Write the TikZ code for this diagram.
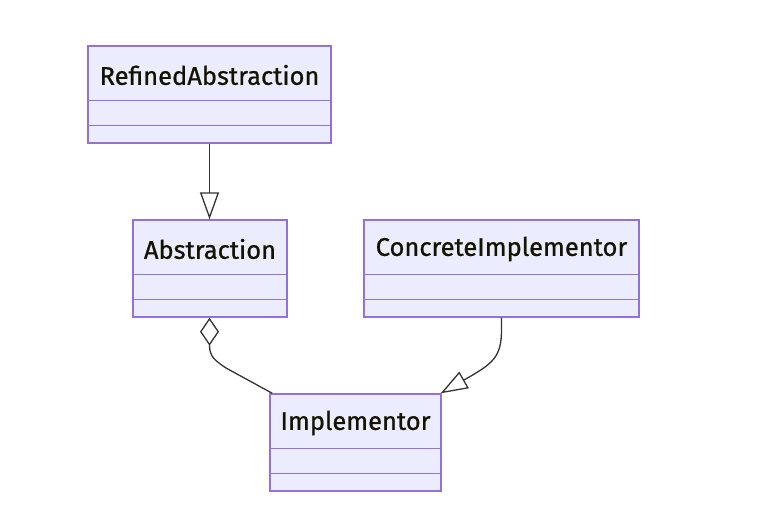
\documentclass[tikz,border=0pt]{standalone}
\usepackage{fontspec}
\setmainfont{Fira Sans}
\newfontfamily\lblfont{Fira Sans}[FakeBold=0.8]
\usetikzlibrary{arrows.meta}
\definecolor{clsfill}{HTML}{ECECFF}
\definecolor{clsdraw}{HTML}{9370DB}
\definecolor{linec}{HTML}{333333}
\definecolor{txtc}{HTML}{131300}
\begin{document}
\begin{tikzpicture}[x=1pt,y=-1pt,
  cls/.style={draw=clsdraw, fill=clsfill, line width=1.4pt, inner sep=0pt, rectangle},
  lbl/.style={text=txtc, font=\lblfont\fontsize{25.5}{29}\selectfont, inner sep=0pt, anchor=center},
  div/.style={draw=clsdraw, line width=1.5pt},
  conn/.style={draw=linec, line width=1.3pt},
  gen/.style={-{Triangle[open, length=27pt, width=19pt, line width=1.3pt]}},
  agg/.style={{Diamond[open, length=28pt, width=19pt, line width=1.3pt]}-}
]
\useasboundingbox[fill=white] (0,0) rectangle (770,530);

% RefinedAbstraction
\node[cls, minimum width=243pt, minimum height=97pt] (ra) at (209.5,94.5) {};
\node[lbl] (ra-t) at (209.5,75) {RefinedAbstraction};
\draw[div] ([yshift=-55pt]ra.north west) -- ([yshift=-55pt]ra.north east);
\draw[div] ([yshift=-80pt]ra.north west) -- ([yshift=-80pt]ra.north east);

% Abstraction
\node[cls, minimum width=154pt, minimum height=97pt] (ab) at (210,268.5) {};
\node[lbl] (ab-t) at (210,249) {Abstraction};
\draw[div] ([yshift=-55pt]ab.north west) -- ([yshift=-55pt]ab.north east);
\draw[div] ([yshift=-80pt]ab.north west) -- ([yshift=-80pt]ab.north east);

% ConcreteImplementor
\node[cls, minimum width=275pt, minimum height=97pt] (ci) at (501.5,268.5) {};
\node[lbl] (ci-t) at (501.5,249) {ConcreteImplementor};
\draw[div] ([yshift=-55pt]ci.north west) -- ([yshift=-55pt]ci.north east);
\draw[div] ([yshift=-80pt]ci.north west) -- ([yshift=-80pt]ci.north east);

% Implementor
\node[cls, minimum width=171pt, minimum height=97pt] (im) at (355.5,442.5) {};
\node[lbl] (im-t) at (355.5,423) {Implementor};
\draw[div] ([yshift=-55pt]im.north west) -- ([yshift=-55pt]im.north east);
\draw[div] ([yshift=-80pt]im.north west) -- ([yshift=-80pt]im.north east);

% connectors
\coordinate (raout) at (209.5,143);
\coordinate (abin) at (209.5,220);
\draw[conn, gen] (ra.south -| raout) -- (ab.north -| abin);

\coordinate (about) at (209.5,317);
\coordinate (imin) at ([xshift=3pt]im.north west);
\draw[conn, agg] (ab.south -| about) -- (209.5,345) .. controls (209.5,356) and (214,360) .. (226,368) -- (imin);

\coordinate (imin2) at ([xshift=-1pt]im.north east);
\draw[conn, gen] (ci.south) -- (501.5,330) .. controls (501.5,358) and (492,364) .. (imin2);
\end{tikzpicture}
\end{document}
